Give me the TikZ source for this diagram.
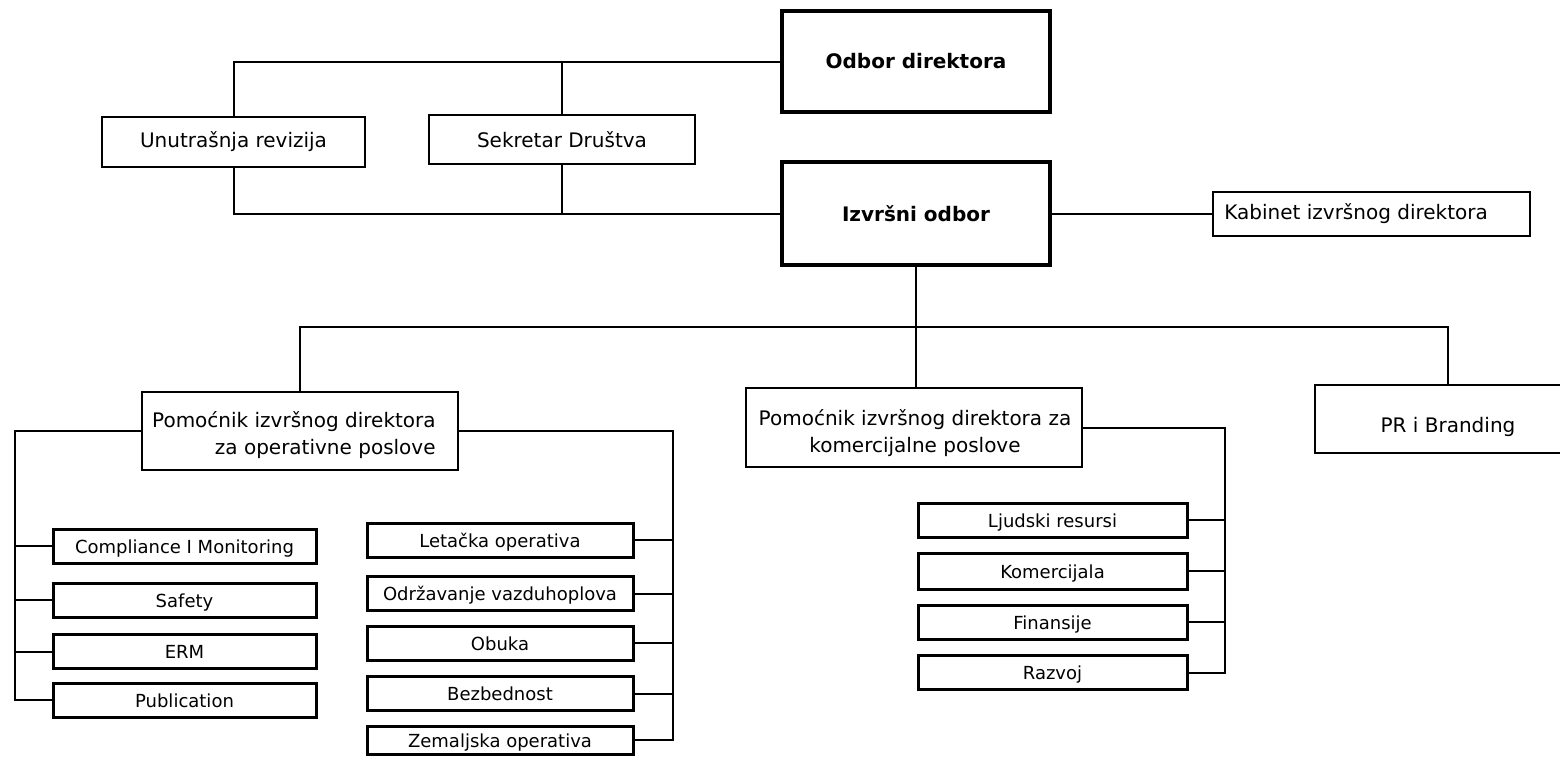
\documentclass[tikz,border=0pt]{standalone}
\usepackage{fontspec}
\setmainfont{DejaVu Sans}
\begin{document}
\begin{tikzpicture}[x=0.5pt,y=-0.5pt,
  base/.style={draw, inner sep=0pt, font=\fontsize{10}{13.5}\selectfont, align=center},
  topbox/.style={base, line width=2pt, font=\fontsize{10}{13.5}\selectfont\bfseries},
  thinbox/.style={base, line width=1pt},
  midbox/.style={base, line width=1.2pt},
  unitbox/.style={base, line width=1.5pt, font=\fontsize{9}{11}\selectfont, minimum height=17pt, text height=7pt, text depth=0pt},
  lunit/.style={unitbox, minimum width=131.5pt},
  runit/.style={unitbox, minimum width=133pt},
  cunit/.style={unitbox, minimum width=134.5pt},
  plain/.style={inner sep=0pt, font=\fontsize{10}{13.5}\selectfont},
  link/.style={line width=1pt}
]
\fill[white] (0,0) rectangle (1560,756);
\useasboundingbox (0,0) rectangle (1560,756);
\clip (0,0) rectangle (1560,756);

% top level
\node[topbox, minimum width=134pt, minimum height=50.5pt] (odbor) at (916,61.5) {Odbor direktora};
\node[topbox, minimum width=134pt, minimum height=51.5pt] (izvrsni) at (916,213.5) {Izvršni odbor};
\node[thinbox, minimum width=131.5pt, minimum height=25pt] (unut) at (233.5,142) {Unutrašnja revizija};
\node[thinbox, minimum width=133pt, minimum height=24.5pt] (sekr) at (562,139.5) {Sekretar Društva};
\node[thinbox, minimum width=158.5pt, minimum height=22pt] (kab) at (1371.5,213.5) {};
\node[plain, anchor=west] (kabT) at (1224,213.5) {Kabinet izvršnog direktora};

% second level
\node[midbox, minimum width=158pt, minimum height=39pt] (pomop) at (300,431) {};
\node[plain, anchor=east, align=right] (pomopT) at (436,435) {Pomoćnik izvršnog direktora\\za operativne poslove};
\node[midbox, minimum width=168pt, minimum height=39.5pt] (pomkom) at (914,427.5) {};
\node[plain, align=center] (pomkomT) at (915,433) {Pomoćnik izvršnog direktora za\\komercijalne poslove};
\node[thinbox, minimum width=133pt, minimum height=34pt, text height=13pt, text depth=0pt] (pr) at (1448,419) {PR i Branding};

% operational units, left column
\node[lunit] (comp) at (184.5,546) {Compliance I Monitoring};
\node[lunit] (safety) at (184.5,600) {Safety};
\node[lunit] (erm) at (184.5,651.5) {ERM};
\node[lunit] (pub) at (184.5,700) {Publication};

% operational units, right column
\node[runit] (let) at (500,540) {Letačka operativa};
\node[runit] (odr) at (500,593.5) {Održavanje vazduhoplova};
\node[runit] (obuka) at (500,643) {Obuka};
\node[runit] (bez) at (500,693.5) {Bezbednost};
\node[runit, minimum height=14pt] (zem) at (500,740) {Zemaljska operativa};

% commercial units
\node[cunit] (ljud) at (1052.5,520) {Ljudski resursi};
\node[cunit, minimum height=18pt] (kom) at (1052.5,571) {Komercijala};
\node[cunit] (fin) at (1052.5,622) {Finansije};
\node[cunit] (raz) at (1052.5,672.5) {Razvoj};

% bus coordinates
\coordinate (bus) at (300,327);
\coordinate (lbus) at (15,431);
\coordinate (rbus) at (673,431);
\coordinate (cbus) at (1225,427.5);

% connectors top
\draw[link] (odbor.west) -- (unut.north |- odbor.west) -- (unut.north);
\draw[link] (sekr.north |- odbor.west) -- (sekr.north);
\draw[link] (izvrsni.west) -- (unut.south |- izvrsni.west) -- (unut.south);
\draw[link] (sekr.south) -- (sekr.south |- izvrsni.west);
\draw[link] (izvrsni.east) -- (kab.west);

% connectors to second level
\draw[link] (izvrsni.south) -- (izvrsni.south |- pomkom.north);
\draw[link] (pomop.north) -- (bus) -- (pr.north |- bus) -- (pr.north);

% operational left
\draw[link] (pomop.west) -- (lbus) |- (pub.west);
\draw[link] (lbus |- comp.west) -- (comp.west);
\draw[link] (lbus |- safety.west) -- (safety.west);
\draw[link] (lbus |- erm.west) -- (erm.west);

% operational right
\draw[link] (pomop.east) -- (rbus) |- (zem.east);
\draw[link] (rbus |- let.east) -- (let.east);
\draw[link] (rbus |- odr.east) -- (odr.east);
\draw[link] (rbus |- obuka.east) -- (obuka.east);
\draw[link] (rbus |- bez.east) -- (bez.east);

% commercial
\draw[link] (pomkom.east) -- (cbus) |- (raz.east);
\draw[link] (cbus |- ljud.east) -- (ljud.east);
\draw[link] (cbus |- kom.east) -- (kom.east);
\draw[link] (cbus |- fin.east) -- (fin.east);
\end{tikzpicture}
\end{document}
